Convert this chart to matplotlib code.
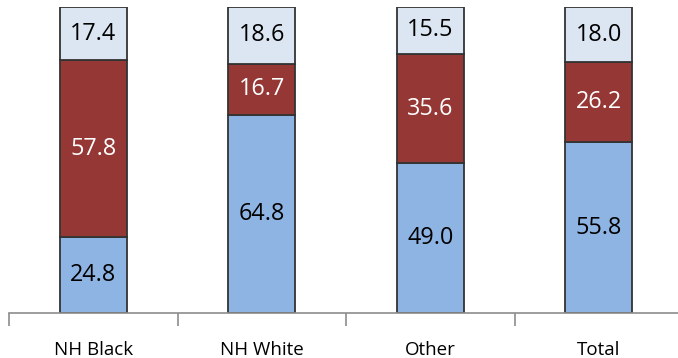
import matplotlib.pyplot as plt
import numpy as np

categories = ["NH Black", "NH White", "Other", "Total"]
bottom_vals = [24.8, 64.8, 49.0, 55.8]
middle_vals = [57.8, 16.7, 35.6, 26.2]
top_vals = [17.4, 18.6, 15.5, 18.0]

LIGHT_BLUE = "#8eb4e3"
DARK_RED = "#953735"
PALE_BLUE = "#dce6f2"
EDGE = "#333333"
AXIS = "#8c8c8c"

plt.rcParams["font.family"] = ["Open Sans", "DejaVu Sans"]

W, H = 678, 358
fig = plt.figure(figsize=(W / 100, H / 100), dpi=100)
ax = fig.add_axes([9 / W, 45 / H, 674 / W, 306 / H])

x = np.arange(len(categories))
bottoms = np.array(bottom_vals)
mids = np.array(middle_vals)
tops = np.array(top_vals)

segments = [
    (bottoms, np.zeros(len(x)), LIGHT_BLUE, "black"),
    (mids, bottoms, DARK_RED, "white"),
    (tops, bottoms + mids, PALE_BLUE, "black"),
]
for vals, base, color, txt_color in segments:
    bars = ax.bar(x, vals, bottom=base, width=0.4, color=color,
                  edgecolor=EDGE, linewidth=1.3)
    for b, v, b0 in zip(bars, vals, base):
        ax.text(b.get_x() + b.get_width() / 2, b0 + v / 2, f"{v:.1f}",
                ha="center", va="center", color=txt_color, fontsize=16.8)

ax.set_xlim(-0.5, len(categories) - 0.5)
ax.set_ylim(0, 100)

for side in ["top", "right", "left"]:
    ax.spines[side].set_visible(False)
ax.spines["bottom"].set_color(AXIS)
ax.spines["bottom"].set_linewidth(1.2)
ax.set_yticks([])

ax.set_xticks(x)
ax.set_xticklabels(categories, fontsize=13.5)
ax.tick_params(axis="x", which="major", length=0, pad=20)
ax.set_xticks(np.arange(len(categories) + 1) - 0.5, minor=True)
ax.tick_params(axis="x", which="minor", length=9, width=1.2, color=AXIS,
               direction="out")

fig.savefig("out.png", dpi=100)
